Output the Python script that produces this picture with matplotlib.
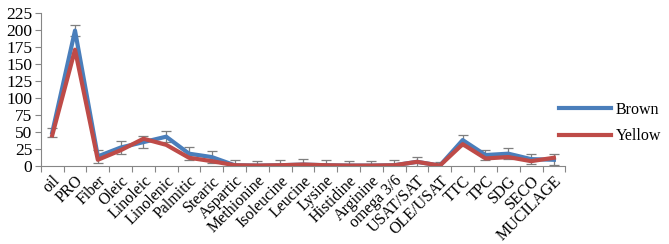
import matplotlib
matplotlib.use('Agg')
from matplotlib import pyplot as plt
import numpy as np

categories = ['oil', 'PRO', 'Fiber', 'Oleic', 'Linoleic', 'Linolenic', 'Palmitic',
              'Stearic', 'Aspartic', 'Methionine', 'Isoleucine', 'Leucine', 'Lysine',
              'Histidine', 'Arginine', 'omega 3/6', 'USAT/SAT', 'OLE/USAT', 'TTC',
              'TPC', 'SDG', 'SECO', 'MUCILAGE']
brown = [49, 199, 14, 27, 35, 43, 18, 13, 1, 0.5, 1, 2, 1, 0.5, 0.5, 1, 6, 0.5,
         38, 16, 18, 10, 9]
yellow = [45, 171, 9, 23, 40, 31, 12, 7, 1, 0.5, 1, 2, 1, 0.5, 0.5, 1, 6, 0.5,
          32, 11, 13, 7, 12]
brown_err = [7, 8, 9, 10, 9, 8, 10, 9, 8, 7, 8, 8, 8, 7, 7, 8, 7, 6,
             8, 8, 8, 7, 8]

plt.rcParams['font.family'] = ['Liberation Serif', 'DejaVu Serif']

fig = plt.figure(figsize=(6.69, 2.44), dpi=100)
ax = fig.add_axes([0.061, 0.32, 0.784, 0.627])

x = np.arange(len(categories))
ax.errorbar(x, brown, yerr=brown_err, fmt='none', ecolor='#7f7f7f', elinewidth=0.9,
            capsize=3.5, capthick=0.9, zorder=1)
ax.plot(x, brown, color='#4a7ebb', lw=3, label='Brown', zorder=2)
ax.plot(x, yellow, color='#be4b48', lw=3, label='Yellow', zorder=3)

ax.set_xlim(-0.5, len(categories) - 0.5)
ax.set_ylim(0, 225)
ax.set_yticks(np.arange(0, 226, 25))
ax.set_xticks(np.arange(-0.5, len(categories), 1))
ax.set_xticklabels([])
ax.set_xticks(x, minor=True)
ax.set_xticklabels(categories, minor=True, rotation=45, ha='right',
                   rotation_mode='anchor', fontsize=11.5)
ax.tick_params(axis='x', which='minor', length=0, pad=5)
ax.tick_params(axis='x', which='major', length=4, color='#868686', direction='out')
ax.tick_params(axis='y', length=4, color='#868686', labelsize=12.5, pad=2)

for s in ['top', 'right']:
    ax.spines[s].set_visible(False)
for s in ['left', 'bottom']:
    ax.spines[s].set_color('#868686')

ax.legend(loc='center left', bbox_to_anchor=(0.96, 0.28), frameon=False,
          fontsize=11.5, handlelength=3.3, labelspacing=0.65, handletextpad=0.25)

fig.savefig('out.png', dpi=100)
